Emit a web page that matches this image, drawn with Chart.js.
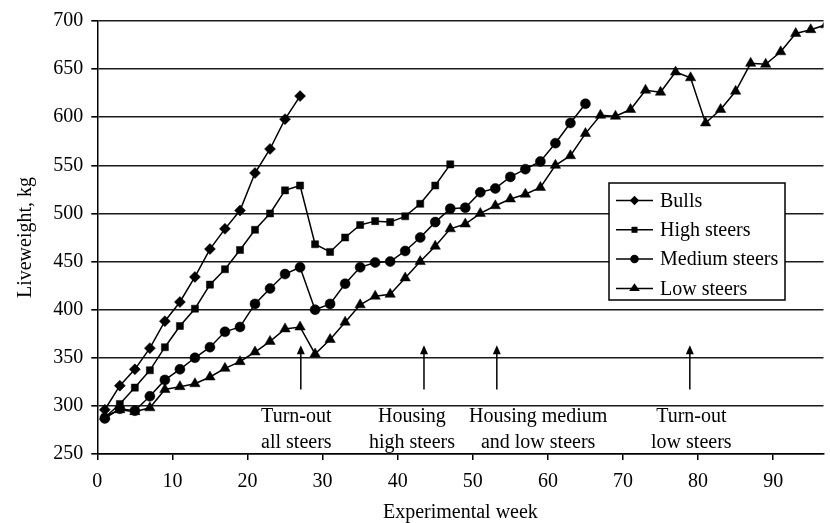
<!DOCTYPE html>
<html>
<head>
<meta charset="utf-8">
<script src="https://cdn.jsdelivr.net/npm/chart.js@4.4.1/dist/chart.umd.min.js"></script>
<style>
  html, body { margin: 0; padding: 0; background: #fff; }
  #wrap { width: 830px; height: 523px; }
</style>
</head>
<body>
<div id="wrap"><canvas id="chart" width="830" height="523"></canvas></div>
<script>
// weeks at which the animals were weighed
const weeks = [1, 3, 5, 7, 9, 11, 13, 15, 17, 19, 21, 23, 25, 27, 29, 31, 33, 35, 37, 39,
  41, 43, 45, 47, 49, 51, 53, 55, 57, 59, 61, 63, 65, 67, 69, 71, 73, 75, 77, 79,
  81, 83, 85, 87, 89, 91, 93, 95, 97]

// liveweight, kg
const bulls = [296, 321, 338, 360, 388, 408, 434, 463, 484, 503, 542, 567, 598, 622]
const highSteers = [288, 302, 319, 337, 361, 383, 401, 426, 442, 462, 483, 500, 524, 529,
  468, 460, 475, 488, 492, 491, 497, 510, 529, 551]
const mediumSteers = [287, 297, 295, 310, 327, 338, 350, 361, 377, 382, 406, 422, 437, 444,
  400, 406, 427, 444, 449, 450, 461, 475, 491, 505, 506, 522, 526, 538, 546, 554, 573, 594, 614]
const lowSteers = [289, 296, 294, 298, 317, 320, 323, 330, 339, 346, 356, 367, 380, 382,
  354, 369, 387, 405, 414, 416, 433, 450, 466, 484, 489, 500, 508, 515, 520, 527,
  550, 560, 583, 602, 601, 608, 628, 626, 647, 641, 594, 608, 627, 656, 655, 668, 687, 691, 696]

const seriesNames = ['Bulls', 'High steers', 'Medium steers', 'Low steers']
const xTicks = [0, 10, 20, 30, 40, 50, 60, 70, 80, 90]
const yTicks = [250, 300, 350, 400, 450, 500, 550, 600, 650, 700]

// management events (arrows) and their notes
const arrowWeeks = [27.1, 43.5, 53.2, 78.9]
const arrowFrom = 317
const arrowTo = 363
const noteWeeks = [26.5, 41.9, 58.7, 79.1]
const noteLines = [['Turn-out', 'all steers'], ['Housing', 'high steers'],
  ['Housing medium', 'and low steers'], ['Turn-out', 'low steers']]
const noteValues = [289, 261.5]

const FONT = '"Liberation Serif", "Times New Roman", serif'
const styles = [
  { pointStyle: 'rectRot', radius: 5.5 },
  { pointStyle: 'rect', radius: 5 },
  { pointStyle: 'circle', radius: 5 },
  { pointStyle: 'triangle', radius: 6 }
]

function points(vals) {
  return vals.map((v, i) => ({ x: weeks[i], y: v }))
}

function marker(ctx, style, x, y, r) {
  ctx.beginPath()
  if (style === 'circle') {
    ctx.arc(x, y, r, 0, Math.PI * 2)
  } else if (style === 'rect') {
    var s = r * Math.SQRT1_2
    ctx.rect(x - s, y - s, 2 * s, 2 * s)
  } else if (style === 'rectRot') {
    ctx.moveTo(x, y - r); ctx.lineTo(x + r, y); ctx.lineTo(x, y + r); ctx.lineTo(x - r, y)
  } else {
    var h = r * 1.5
    ctx.moveTo(x, y - r); ctx.lineTo(x + r * 1.04, y + h - r); ctx.lineTo(x - r * 1.04, y + h - r)
  }
  ctx.closePath()
  ctx.fill()
}

const notesPlugin = {
  id: 'notes',
  afterDatasetsDraw(chart) {
    const ctx = chart.ctx
    const xs = chart.scales.x, ys = chart.scales.y
    ctx.save()
    ctx.strokeStyle = '#000'
    ctx.fillStyle = '#000'
    ctx.lineWidth = 1.5
    arrowWeeks.forEach(w => {
      const x = xs.getPixelForValue(w)
      const y0 = ys.getPixelForValue(arrowFrom)
      const y1 = ys.getPixelForValue(arrowTo)
      ctx.beginPath()
      ctx.moveTo(x, y0); ctx.lineTo(x, y1 + 6)
      ctx.stroke()
      ctx.beginPath()
      ctx.moveTo(x, y1); ctx.lineTo(x + 4, y1 + 9); ctx.lineTo(x - 4, y1 + 9)
      ctx.closePath(); ctx.fill()
    })
    ctx.font = '20px ' + FONT
    ctx.textAlign = 'center'
    ctx.textBaseline = 'middle'
    noteWeeks.forEach((w, i) => {
      const x = xs.getPixelForValue(w)
      noteLines[i].forEach((t, j) => ctx.fillText(t, x, ys.getPixelForValue(noteValues[j])))
    })
    ctx.restore()
  },
  afterDraw(chart) {
    // legend box inside the plot
    const ctx = chart.ctx
    ctx.save()
    ctx.fillStyle = '#fff'
    ctx.fillRect(609, 183, 176, 117)
    ctx.strokeStyle = '#000'
    ctx.lineWidth = 1.5
    ctx.strokeRect(609, 183, 176, 117)
    ctx.font = '20px ' + FONT
    ctx.textAlign = 'left'
    ctx.textBaseline = 'middle'
    ctx.fillStyle = '#000'
    seriesNames.forEach((name, i) => {
      const y = 200.5 + i * 29.3
      ctx.beginPath()
      ctx.moveTo(616, y); ctx.lineTo(653, y)
      ctx.stroke()
      marker(ctx, styles[i].pointStyle, 634.5, y, styles[i].radius * 0.85)
      ctx.fillText(name, 660, y + 1)
    })
    ctx.restore()
  }
}

const datasets = [bulls, highSteers, mediumSteers, lowSteers].map((vals, i) => ({
  label: seriesNames[i],
  data: points(vals),
  borderColor: '#000',
  borderWidth: 1.5,
  backgroundColor: '#000',
  pointStyle: styles[i].pointStyle,
  pointRadius: styles[i].radius,
  pointBackgroundColor: '#000',
  pointBorderColor: '#000',
  pointBorderWidth: 0.5,
  tension: 0
}))

Chart.defaults.font.family = FONT
Chart.defaults.font.size = 20
Chart.defaults.color = '#000'

new Chart(document.getElementById('chart'), {
  type: 'line',
  data: { datasets: datasets },
  options: {
    responsive: false,
    animation: false,
    devicePixelRatio: 1,
    layout: { padding: { top: 21, right: 0, left: 0, bottom: 0 } },
    plugins: { legend: { display: false }, tooltip: { enabled: false } },
    scales: {
      x: {
        type: 'linear',
        min: 0,
        max: 96.7,
        afterBuildTicks: s => { s.ticks = xTicks.map(v => ({ value: v })) },
        afterFit: s => { s.height = 69 },
        grid: { drawOnChartArea: false, drawTicks: true, tickLength: 6, color: '#000', lineWidth: 1.5 },
        border: { color: '#000', width: 1.5 },
        ticks: { padding: 10, maxRotation: 0, font: { size: 20 } },
        title: { display: true, text: 'Experimental week', font: { size: 20, lineHeight: 1 }, padding: { top: 0, bottom: 0 } }
      },
      y: {
        min: 250,
        max: 700,
        afterBuildTicks: s => { s.ticks = yTicks.map(v => ({ value: v })) },
        afterFit: s => { s.width = 97.3 },
        grid: { color: '#1a1a1a', lineWidth: 1.6, tickLength: 6, tickColor: '#000' },
        border: { color: '#000', width: 1.5 },
        ticks: { padding: 8, font: { size: 20 } },
        title: { display: true, text: 'Liveweight, kg', font: { size: 20 }, padding: { top: 14, bottom: 0 } }
      }
    }
  },
  plugins: [notesPlugin]
})
</script>
</body>
</html>
